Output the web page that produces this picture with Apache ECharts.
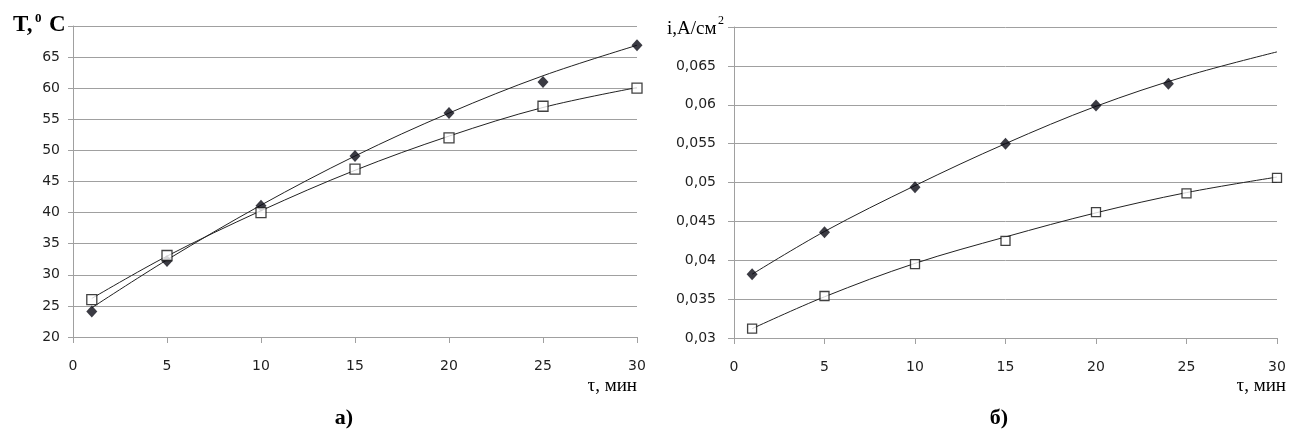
<!DOCTYPE html>
<html><head><meta charset="utf-8">
<script src="https://cdn.jsdelivr.net/npm/echarts@6/dist/echarts.min.js"></script>
<style>html,body{margin:0;padding:0;background:#fff}#c{width:1290px;height:432px}</style>
</head><body><div id="c"></div>
<script>
// ---- Chart a) temperature ----
const tauA = [1, 5, 10, 15, 20, 25, 30];
const tempDiamond = [24.1, 32.2, 41.1, 49.1, 56.0, 61.0, 66.9];
const tempSquare = [26.0, 33.1, 40.0, 47.0, 52.0, 57.1, 60.0];
const trendTauA = [1, 5, 10, 15, 20, 25, 30];
const trendTempDiamond = [24.7, 32.4, 41.2, 49.1, 56.0, 62.0, 66.9];
const trendTempSquare = [26.2, 33.0, 40.3, 46.8, 52.3, 56.9, 60.1];
// ---- Chart б) current density ----
const tauBDiamond = [1, 5, 10, 15, 20, 24];
const iDiamond = [0.0382, 0.0436, 0.0494, 0.0550, 0.0599, 0.0627];
const tauBSquare = [1, 5, 10, 15, 20, 25, 30];
const iSquare = [0.0312, 0.0354, 0.0395, 0.0425, 0.0462, 0.0486, 0.0506];
const trendTauB = [1, 5, 10, 15, 20, 25, 30];
const trendIDiamond = [0.0382, 0.0437, 0.0496, 0.0550, 0.0598, 0.0637, 0.0668];
const trendISquare = [0.0312, 0.0353, 0.0396, 0.0430, 0.0461, 0.0487, 0.0507];
// tick labels
const xTicks = [0, 5, 10, 15, 20, 25, 30];
const yTicksA = [20, 25, 30, 35, 40, 45, 50, 55, 60, 65];
const yTicksB = ['0,03', '0,035', '0,04', '0,045', '0,05', '0,055', '0,06', '0,065'];

const pair = (xs, ys) => xs.map((x, i) => [x, ys[i]]);
const gridCol = '#a0a0a0';
const labelStyle = { color: '#1f1f1f', fontFamily: 'DejaVu Sans', fontSize: 14 };
const serif = 'Liberation Serif';

function xAxisCfg(gi) {
  return {
    gridIndex: gi, type: 'value', min: 0, max: 30, interval: 5,
    axisLine: { show: true, lineStyle: { color: gridCol } },
    axisTick: { show: true, length: 6, lineStyle: { color: gridCol } },
    axisLabel: Object.assign({ margin: 22, formatter: v => xTicks.includes(v) ? String(v) : '' }, labelStyle),
    splitLine: { show: false }
  };
}

const option = {
  animation: false,
  backgroundColor: '#fff',
  grid: [
    { left: 73, top: 26, width: 564, height: 311 },
    { left: 734, top: 27, width: 543, height: 311 }
  ],
  xAxis: [xAxisCfg(0), xAxisCfg(1)],
  yAxis: [
    {
      gridIndex: 0, type: 'value', min: 20, max: 70, interval: 5,
      axisLine: { show: true, lineStyle: { color: gridCol } },
      axisTick: { show: true, length: 5, lineStyle: { color: gridCol } },
      axisLabel: Object.assign({ margin: 13, formatter: v => yTicksA.includes(Math.round(v)) ? String(Math.round(v)) : '' }, labelStyle),
      splitLine: { show: true, lineStyle: { color: gridCol, width: 1 } }
    },
    {
      gridIndex: 1, type: 'value', min: 0.03, max: 0.07, interval: 0.005,
      axisLine: { show: true, lineStyle: { color: gridCol } },
      axisTick: { show: true, length: 6, lineStyle: { color: gridCol } },
      axisLabel: Object.assign({ margin: 18, formatter: v => { const k = Math.round((v - 0.03) / 0.005); return yTicksB[k] !== undefined ? yTicksB[k] : ''; } }, labelStyle),
      splitLine: { show: true, lineStyle: { color: gridCol, width: 1 } }
    }
  ],
  series: [
    { type: 'line', xAxisIndex: 0, yAxisIndex: 0, data: pair(trendTauA, trendTempDiamond), smooth: 0.35, showSymbol: false, lineStyle: { color: '#222', width: 1 }, z: 2 },
    { type: 'line', xAxisIndex: 0, yAxisIndex: 0, data: pair(trendTauA, trendTempSquare), smooth: 0.35, showSymbol: false, lineStyle: { color: '#222', width: 1 }, z: 2 },
    { type: 'scatter', xAxisIndex: 0, yAxisIndex: 0, data: pair(tauA, tempDiamond), symbol: 'diamond', symbolSize: [11, 12], itemStyle: { color: '#0a0a14' }, z: 5 },
    { type: 'scatter', xAxisIndex: 0, yAxisIndex: 0, data: pair(tauA, tempSquare), symbol: 'rect', symbolSize: 10, itemStyle: { color: '#fff', borderColor: '#111', borderWidth: 1.3 }, z: 5 },

    { type: 'line', xAxisIndex: 1, yAxisIndex: 1, data: pair(trendTauB, trendIDiamond), smooth: 0.35, showSymbol: false, lineStyle: { color: '#222', width: 1 }, z: 2 },
    { type: 'line', xAxisIndex: 1, yAxisIndex: 1, data: pair(trendTauB, trendISquare), smooth: 0.35, showSymbol: false, lineStyle: { color: '#222', width: 1 }, z: 2 },
    { type: 'scatter', xAxisIndex: 1, yAxisIndex: 1, data: pair(tauBDiamond, iDiamond), symbol: 'diamond', symbolSize: [11, 12], itemStyle: { color: '#0a0a14' }, z: 5 },
    { type: 'scatter', xAxisIndex: 1, yAxisIndex: 1, data: pair(tauBSquare, iSquare), symbol: 'rect', symbolSize: 9, itemStyle: { color: '#fff', borderColor: '#111', borderWidth: 1.3 }, z: 5 }
  ],
  graphic: [
    { type: 'text', x: 13, y: 25, style: { text: 'T,', fontFamily: serif, fontWeight: 'bold', fontSize: 23, fill: '#000', verticalAlign: 'middle' } },
    { type: 'text', x: 35, y: 19, style: { text: '0', fontFamily: serif, fontWeight: 'bold', fontSize: 13, fill: '#000', verticalAlign: 'middle' } },
    { type: 'text', x: 49, y: 25, style: { text: 'C', fontFamily: serif, fontWeight: 'bold', fontSize: 23, fill: '#000', verticalAlign: 'middle' } },
    { type: 'text', x: 667, y: 29.5, style: { text: 'i,A/см', fontFamily: serif, fontSize: 19, fill: '#000', verticalAlign: 'middle' } },
    { type: 'text', x: 718, y: 21, style: { text: '2', fontFamily: serif, fontSize: 12, fill: '#000', verticalAlign: 'middle' } },
    { type: 'text', x: 637, y: 386.5, style: { text: 'τ, мин', fontFamily: serif, fontSize: 19, fill: '#000', align: 'right', verticalAlign: 'middle' } },
    { type: 'text', x: 1286, y: 386.5, style: { text: 'τ, мин', fontFamily: serif, fontSize: 19, fill: '#000', align: 'right', verticalAlign: 'middle' } },
    { type: 'text', x: 344, y: 418, style: { text: 'а)', fontFamily: serif, fontWeight: 'bold', fontSize: 22, fill: '#000', align: 'center', verticalAlign: 'middle' } },
    { type: 'text', x: 999, y: 418, style: { text: 'б)', fontFamily: serif, fontWeight: 'bold', fontSize: 22, fill: '#000', align: 'center', verticalAlign: 'middle' } }
  ]
};
echarts.init(document.getElementById('c'), null, { renderer: 'canvas' }).setOption(option);
</script></body></html>
